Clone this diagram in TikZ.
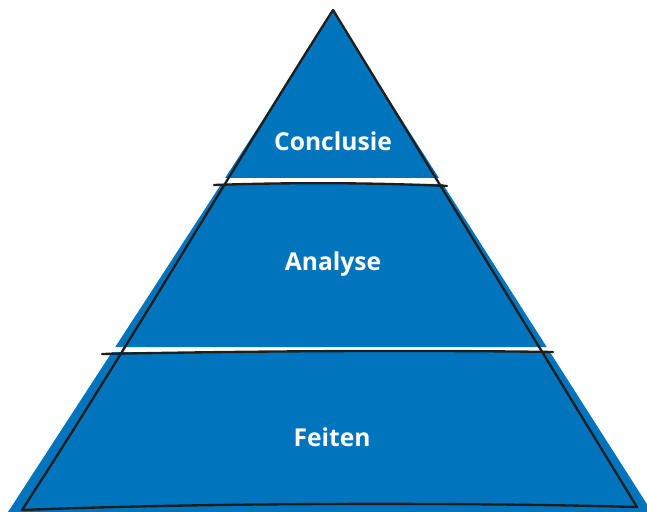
\documentclass[tikz,border=0pt]{standalone}
\usepackage{fontspec}
\setmainfont{Open Sans}
\definecolor{pyrblue}{RGB}{0,117,190}
\definecolor{pen}{RGB}{30,30,30}
\tikzset{
  layer/.style = {fill = pyrblue},
  sketch/.style = {draw = pen, line width = 2pt, line cap = round, line join = round},
  label/.style = {text = white, font = \bfseries\fontsize{21}{25}\selectfont}
}
\begin{document}
\begin{tikzpicture}[x = 0.03cm, y = -0.03cm]
\useasboundingbox (0,0) rectangle (647,512);
\begin{scope}
\clip (0,0) rectangle (647,512);
% blue layers
\fill[layer] (333,12) -- (438.9,178) -- (225.1,178) -- cycle;
\fill[layer] (221.2,184) -- (442.7,184) -- (546.7,347) -- (115.25,347) -- cycle;
\fill[layer] (112,352) -- (549.9,352) -- (652,512) -- (8,512) -- cycle;
\end{scope}
% hand drawn outline
\coordinate (top) at (333,10);
\coordinate (bl) at (22,510);
\coordinate (br) at (637,507);
\coordinate (c1l) at (214,185);
\coordinate (c1r) at (447,186);
\coordinate (c2l) at (102,354);
\coordinate (c2r) at (553,352);
\draw[sketch] (top) .. controls (230,172) and (125,352) .. (bl);
\draw[sketch] (top) -- (br);
\draw[sketch] (bl) .. controls (200,503) and (450,502) .. (br);
\draw[sketch] (c1l) .. controls (300,182) and (380,183) .. (c1r);
\draw[sketch] (c2l) .. controls (250,351) and (420,350) .. (c2r);
% texts
\node[label] (con) at (333,141) {Conclusie};
\node[label] (ana) at (333,264) {Analyse};
\node[label] (fei) at (332,437) {Feiten};
\end{tikzpicture}
\end{document}
